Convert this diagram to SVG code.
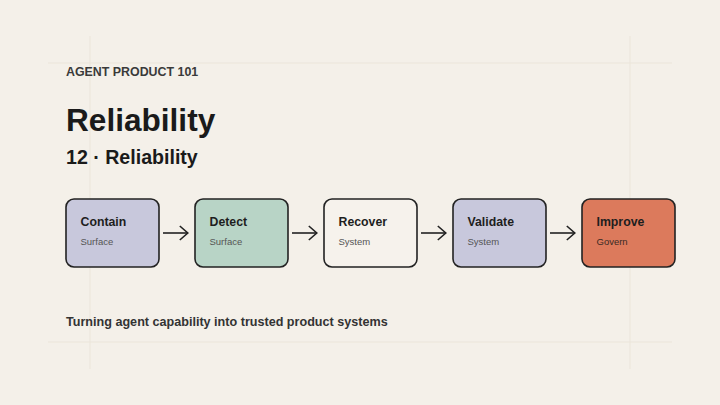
<svg xmlns="http://www.w3.org/2000/svg" width="720" height="405" viewBox="0 0 720 405">
<defs>
<style>
.grid{stroke:#ebe5da;stroke-width:1;fill:none}
.box{stroke:#222;stroke-width:1.6}
.t{font-family:"Liberation Sans",Arial,sans-serif;font-weight:bold;font-size:12.3px;fill:#1e1e1e}
.s{font-family:"Liberation Sans",Arial,sans-serif;font-size:9.5px;fill:#555}
.conn{stroke:#222;stroke-width:1.6;fill:none}
</style>
<marker id="ah" viewBox="0 0 10 16" refX="9.2" refY="8" markerWidth="10" markerHeight="16" markerUnits="userSpaceOnUse" orient="auto">
<path d="M1,1 L9,8 L1,15" fill="none" stroke="#222" stroke-width="1.6"/>
</marker>
</defs>
<rect width="720" height="405" fill="#f4f0e9"/>
<g id="grid">
<line class="grid" x1="90" y1="36" x2="90" y2="369"/>
<line class="grid" x1="630" y1="36" x2="630" y2="369"/>
<line class="grid" x1="48" y1="63" x2="672" y2="63"/>
<line class="grid" x1="48" y1="342" x2="672" y2="342"/>
</g>
<g id="header" font-family="'Liberation Sans',Arial,sans-serif" font-weight="bold">
<text x="66" y="76" font-size="12.4" fill="#3a3a3a">AGENT PRODUCT 101</text>
<text x="66" y="131" font-size="31.6" fill="#1a1a1a">Reliability</text>
<text x="66" y="164" font-size="19.6" fill="#1a1a1a">12 · Reliability</text>
</g>
<g id="connectors">
<line class="conn" x1="163" y1="233" x2="188" y2="233" marker-end="url(#ah)"/>
<line class="conn" x1="292" y1="233" x2="317" y2="233" marker-end="url(#ah)"/>
<line class="conn" x1="421" y1="233" x2="446" y2="233" marker-end="url(#ah)"/>
<line class="conn" x1="550" y1="233" x2="575" y2="233" marker-end="url(#ah)"/>
</g>
<g id="contain">
<rect class="box" x="66" y="199" width="93" height="68" rx="8" fill="#c8c8dc"/>
<text class="t" x="80.5" y="225.5">Contain</text>
<text class="s" x="80.5" y="244.5">Surface</text>
</g>
<g id="detect">
<rect class="box" x="195" y="199" width="93" height="68" rx="8" fill="#b8d4c6"/>
<text class="t" x="209.5" y="225.5">Detect</text>
<text class="s" x="209.5" y="244.5">Surface</text>
</g>
<g id="recover">
<rect class="box" x="324" y="199" width="93" height="68" rx="8" fill="#f6f2ec"/>
<text class="t" x="338.5" y="225.5">Recover</text>
<text class="s" x="338.5" y="244.5">System</text>
</g>
<g id="validate">
<rect class="box" x="453" y="199" width="93" height="68" rx="8" fill="#c8c8dc"/>
<text class="t" x="467.5" y="225.5">Validate</text>
<text class="s" x="467.5" y="244.5">System</text>
</g>
<g id="improve">
<rect class="box" x="582" y="199" width="93" height="68" rx="8" fill="#dc7a5c"/>
<text class="t" x="596.5" y="225.5">Improve</text>
<text class="s" x="596.5" y="244.5" style="fill:#3a2a24">Govern</text>
</g>
<g id="footer">
<text x="66" y="326" font-family="'Liberation Sans',Arial,sans-serif" font-weight="bold" font-size="12.6" fill="#333">Turning agent capability into trusted product systems</text>
</g>
</svg>
